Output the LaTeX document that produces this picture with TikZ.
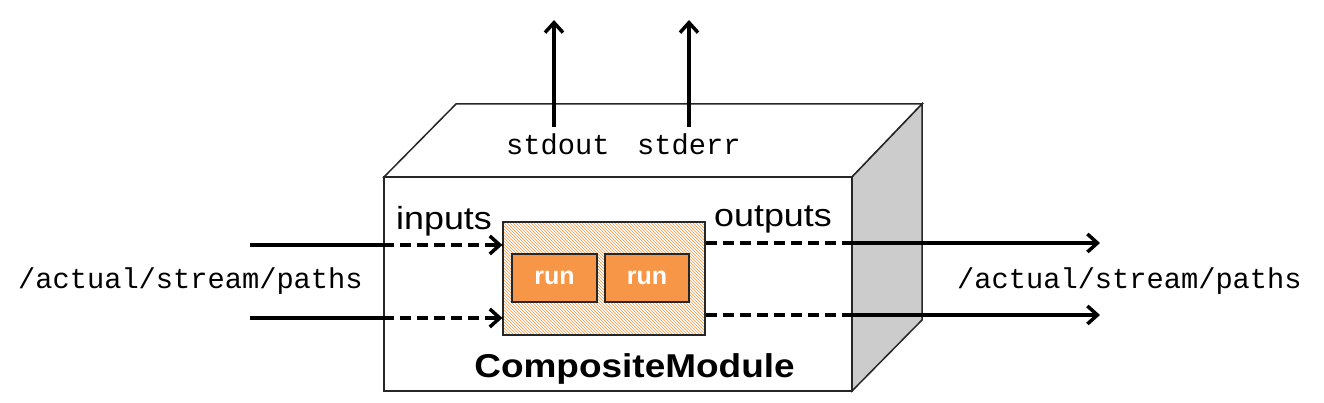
\documentclass[tikz,border=0pt]{standalone}
\usepackage{fontspec}
\setmainfont{Liberation Sans}
\setmonofont{Liberation Mono}
\usetikzlibrary{arrows.meta,patterns}
\definecolor{runorange}{HTML}{F79646}
\definecolor{sidegray}{HTML}{CCCCCC}
\newcommand{\wide}[1]{\scalebox{1.12}[1]{#1}}
\tikzset{
  edgeline/.style={line width=1.5pt, draw=black!85},
  flow/.style={line width=4pt, -{Straight Barb[length=10pt,width=18pt,line width=3.5pt]}},
  flowplain/.style={line width=4pt},
  flowdash/.style={line width=4pt, dash pattern=on 11pt off 6pt},
  runbox/.style={draw=black!85, line width=1.2pt, fill=runorange, inner sep=0pt,
    text=white, font=\fontsize{25}{27}\selectfont\bfseries},
  sans/.style={font=\fontsize{32}{34}\selectfont, inner sep=0pt, anchor=base west},
  mono/.style={font=\fontsize{28.7}{30}\selectfont\ttfamily, inner sep=0pt, anchor=base west}
}
\begin{document}
\begin{tikzpicture}[x=1pt,y=-1pt]
\useasboundingbox (0,0) rectangle (1324,403);
% box
\draw[edgeline, fill=white] (384,177) -- (456,104) -- (922,104) -- (852,177) -- cycle;
\draw[edgeline, fill=sidegray] (852,177) -- (922,104) -- (922,320) -- (852,391) -- cycle;
\node[edgeline, fill=white, minimum width=468pt, minimum height=214pt, inner sep=0pt] (front) at (618,284) {};
% composite inner box
\node[draw=black!85, line width=1.2pt, pattern=north west lines, pattern color=runorange,
  minimum width=202pt, minimum height=113pt, inner sep=0pt] (comp) at (604,278.5) {};
\node[runbox, minimum width=85pt, minimum height=48pt] (run1) at (554.5,278) {run};
\node[runbox, minimum width=84pt, minimum height=48pt] (run2) at (647,278) {run};
% labels
\node[sans] (inl) at (396,230) {\wide{inputs}};
\node[sans] (outl) at (714,227) {\wide{outputs}};
\node[font=\fontsize{33}{36}\selectfont\bfseries, inner sep=0pt, anchor=base] (cm) at (634.5,377) {\wide{CompositeModule}};
\node[mono] (so) at (506,155) {stdout};
\node[mono] (se) at (637,155) {stderr};
\node[mono] (pl) at (18,288) {/actual/stream/paths};
\node[mono] (pr) at (957,288) {/actual/stream/paths};
% coordinates for free ends
\coordinate (a1) at (250,245);
\coordinate (a2) at (250,318);
\coordinate (b1) at (1100,243);
\coordinate (b2) at (1100,315);
\coordinate (so0) at (554,127);
\coordinate (so1) at (554,20);
\coordinate (se0) at (689,127);
\coordinate (se1) at (689,20);
% input arrows
\draw[flowplain] (a1) -- (front.west |- a1);
\draw[flowdash] (front.west |- a1) -- (comp.west |- a1);
\draw[flow] ([xshift=-10pt]comp.west |- a1) -- (comp.west |- a1);
\draw[flowplain] (a2) -- (front.west |- a2);
\draw[flowdash] (front.west |- a2) -- (comp.west |- a2);
\draw[flow] ([xshift=-10pt]comp.west |- a2) -- (comp.west |- a2);
% output arrows
\draw[flowdash] (comp.east |- b1) -- (front.east |- b1);
\draw[flow] (front.east |- b1) -- (b1);
\draw[flowdash] (comp.east |- b2) -- (front.east |- b2);
\draw[flow] (front.east |- b2) -- (b2);
% stdout / stderr
\draw[flow] (so0) -- (so1);
\draw[flow] (se0) -- (se1);
\end{tikzpicture}
\end{document}
